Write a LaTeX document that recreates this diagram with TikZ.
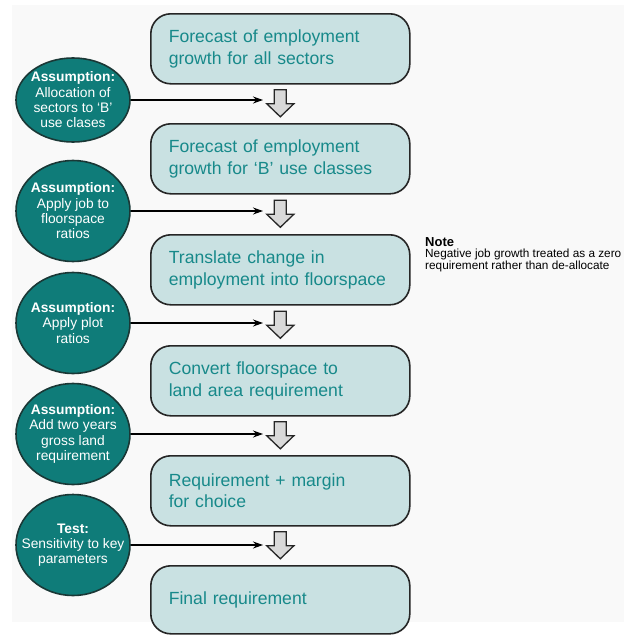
\documentclass[tikz,border=0pt]{standalone}
\usepackage{fontspec}
\setmainfont{Liberation Sans}
\usetikzlibrary{arrows.meta,shapes.geometric}
\definecolor{tealfill}{HTML}{0F7C79}
\definecolor{tealtext}{HTML}{17898A}
\definecolor{boxfill}{HTML}{C9E1E2}
\definecolor{bord}{HTML}{262626}
\definecolor{circbord}{HTML}{1A3836}
\definecolor{bgcol}{HTML}{F9F9F9}
\definecolor{arrfill}{HTML}{D9D9D9}
\begin{document}
\begin{tikzpicture}[x=1pt,y=-1pt,
  stepbox/.style={draw=bord, line width=1.6pt, fill=boxfill, rounded corners=20pt,
    minimum width=259pt, minimum height=70pt, text width=223pt, align=left,
    inner sep=0pt, text=tealtext, font=\fontsize{17.6}{21.5}\selectfont, anchor=north west},
  assum/.style={ellipse, draw=circbord, line width=1.6pt, fill=tealfill,
    minimum width=114pt, minimum height=101pt, inner sep=0pt},
  assumtext/.style={text=white, align=center, inner sep=0pt, font=\fontsize{13.8}{15.3}\selectfont},
  harr/.style={line width=1.3pt, -{Stealth[length=10pt,width=7pt]}},
  blockarr/.style={draw=bord, line width=1.3pt, fill=arrfill, line join=miter}
]
\useasboundingbox (0,0) rectangle (624,635);
\fill[white] (0,0) rectangle (624,635);
\fill[bgcol] (12,5) rectangle (624,622);

% process boxes
\node[stepbox] (b1) at (150,13) {Forecast of employment\\growth for all sectors};
\node[stepbox] (b2) at (150,123) {Forecast of employment\\growth for ‘B’ use classes};
\node[stepbox] (b3) at (150,234) {Translate change in\\employment into floorspace};
\node[stepbox] (b4) at (150,345) {Convert floorspace to\\land area requirement};
\node[stepbox] (b5) at (150,455) {Requirement + margin\\for choice};
\node[stepbox, minimum height=68pt] (b6) at (150,565) {Final requirement};

% block arrows between boxes
\foreach \a/\b/\m in {b1/b2/m1, b2/b3/m2, b3/b4/m3, b4/b5/m4, b5/b6/m5}{
  \path (\a.south) -- (\b.north) coordinate[pos=0.5] (\m);
  \draw[blockarr] ([shift={(-6,-14)}]\m) -- ([shift={(6,-14)}]\m) -- ([shift={(6,0)}]\m)
    -- ([shift={(13.5,0)}]\m) -- ([shift={(0,13)}]\m) -- ([shift={(-13.5,0)}]\m)
    -- ([shift={(-6,0)}]\m) -- cycle;
}

% assumption ellipses
\node[assum, minimum height=84pt] (c1) at (73,100) {};
\node[assum] (c2) at (73,211) {};
\node[assum] (c3) at (73,323) {};
\node[assum] (c4) at (73,434) {};
\node[assum] (c5) at (73,545) {};

\node[assumtext] (t1) at (c1.center) {\textbf{Assumption:}\\Allocation of\\sectors to ‘B’\\use clases};
\node[assumtext] (t2) at (c2.center) {\textbf{Assumption:}\\Apply job to\\floorspace\\ratios};
\node[assumtext] (t3) at (c3.center) {\textbf{Assumption:}\\Apply plot\\ratios};
\node[assumtext] (t4) at (c4.center) {\textbf{Assumption:}\\Add two years\\gross land\\requirement};
\node[assumtext] (t5) at (c5.center) {\textbf{Test:}\\Sensitivity to key\\parameters};

% horizontal arrows
\coordinate (ax) at (263,0);
\foreach \c in {c1,c2,c3,c4,c5}{
  \draw[harr] (\c.east) -- (\c.east -| ax);
}

% note
\node[anchor=base west, inner sep=0pt, font=\bfseries\fontsize{13}{13}\selectfont] (nt) at (425,246) {Note};
\node[anchor=north west, inner sep=0pt, align=left, font=\fontsize{11.8}{10.4}\selectfont] (nb) at (425,249) {Negative job growth treated as a zero\\requirement rather than de-allocate};
\end{tikzpicture}
\end{document}
